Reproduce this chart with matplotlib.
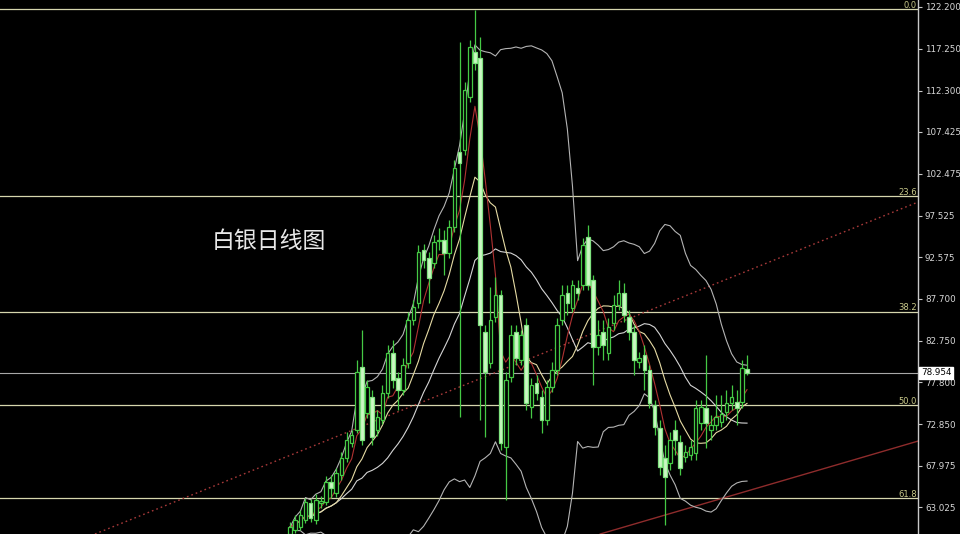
import numpy as np
import pandas as pd
import matplotlib
matplotlib.use("Agg")
import matplotlib.pyplot as plt
import matplotlib.transforms as mtransforms
from matplotlib.patches import Rectangle

# ---------------- data ----------------
opens = [59.9, 60.4, 60.7, 61.5, 63.5, 61.5, 63.5, 63.7, 66.0, 64.7,
         66.9, 68.9, 70.6, 72.2, 79.6, 74.2, 76.1, 72.2, 73.4, 76.6,
         81.3, 78.3, 76.9, 80.1, 85.2, 87.2, 93.5, 92.5, 91.9, 94.5,
         94.6, 93.1, 96.2, 105.0, 105.3, 111.5, 116.9, 116.1, 83.8, 80.1,
         85.5, 88.1, 70.2, 78.4, 83.8, 80.4, 84.6, 74.9, 77.7, 76.1,
         73.4, 77.3, 79.3, 85.2, 88.4, 86.6, 89.0, 89.3, 95.0, 89.9,
         82.0, 83.8, 81.3, 84.8, 87.0, 88.4, 85.5, 83.8, 80.2, 81.0,
         79.3, 75.1, 72.4, 68.9, 68.3, 72.2, 70.8, 69.0, 69.2, 69.5,
         73.0, 74.8, 72.2, 72.8, 73.1, 74.3, 75.4, 75.5, 75.5, 79.4]
highs = [61.3, 62.1, 62.7, 64.1, 64.0, 64.6, 64.4, 66.7, 66.9, 67.7,
         69.6, 71.9, 72.2, 80.5, 84.0, 78.1, 76.9, 74.5, 77.5, 82.2,
         82.8, 79.0, 80.7, 86.1, 87.5, 94.0, 94.2, 93.2, 95.2, 96.1,
         95.8, 97.0, 104.1, 118.0, 113.3, 118.3, 121.8, 118.6, 84.6, 89.1,
         90.3, 88.7, 79.0, 84.6, 84.6, 84.0, 85.4, 78.3, 78.7, 76.9,
         78.1, 80.2, 85.4, 89.3, 89.3, 89.9, 89.9, 94.9, 96.4, 90.5,
         85.2, 85.2, 85.4, 88.1, 89.9, 89.6, 86.4, 84.6, 81.4, 82.2,
         79.9, 75.7, 73.4, 70.4, 71.9, 73.4, 71.6, 70.4, 71.0, 75.7,
         75.7, 81.0, 74.0, 76.3, 76.3, 76.9, 77.5, 76.9, 80.5, 81.0]
lows = [59.2, 60.0, 60.4, 61.2, 61.3, 61.1, 63.0, 63.3, 64.1, 64.3,
        66.3, 68.4, 70.2, 71.8, 70.4, 73.6, 70.4, 71.5, 72.9, 76.0,
        77.1, 74.5, 76.3, 79.5, 84.6, 86.6, 91.3, 87.2, 91.3, 93.5,
        90.5, 92.5, 95.6, 73.7, 104.7, 110.9, 114.7, 73.4, 71.4, 79.5,
        84.9, 69.8, 63.9, 77.9, 79.9, 79.9, 74.5, 73.6, 75.7, 71.8,
        72.8, 76.7, 78.7, 84.6, 85.8, 86.1, 87.5, 88.7, 88.7, 77.5,
        81.0, 80.5, 80.5, 84.0, 86.4, 84.9, 82.8, 78.7, 79.5, 76.9,
        74.8, 71.6, 66.9, 61.0, 67.5, 69.2, 66.9, 68.4, 68.6, 68.6,
        72.2, 70.0, 71.0, 72.2, 72.5, 73.4, 74.5, 72.8, 74.8, 78.7]
closes = [60.7, 61.5, 62.1, 63.7, 61.8, 63.9, 63.8, 66.0, 65.3, 67.1,
          68.9, 71.0, 71.6, 79.0, 71.0, 77.3, 71.4, 73.7, 76.6, 81.3,
          78.1, 76.9, 79.9, 85.2, 86.7, 93.2, 92.3, 90.1, 94.4, 94.6,
          93.1, 96.2, 103.1, 103.7, 112.4, 117.4, 115.6, 84.6, 79.0, 85.2,
          88.1, 70.6, 78.1, 83.4, 80.7, 83.4, 75.4, 77.5, 76.6, 73.4,
          77.3, 79.3, 84.6, 88.1, 87.2, 89.3, 88.4, 94.0, 89.3, 82.0,
          83.4, 82.2, 84.4, 87.0, 88.4, 85.8, 83.8, 80.5, 80.7, 79.3,
          75.4, 72.5, 67.8, 66.6, 71.0, 71.0, 67.7, 69.6, 70.2, 74.8,
          74.9, 73.0, 72.8, 73.7, 74.1, 75.4, 76.1, 74.8, 79.5, 78.954]

tick_values = [122.200, 117.250, 112.300, 107.425, 102.475, 97.525, 92.575,
               87.700, 82.750, 77.800, 72.850, 67.975, 63.025]
tick_labels = ["122.200", "117.250", "112.300", "107.425", "102.475", "97.525",
               "92.575", "87.700", "82.750", "77.800", "72.850", "67.975", "63.025"]

fib_high = 121.94
fib_low = 28.34
fib_levels = [0.0, 23.6, 38.2, 50.0, 61.8]
fib_labels = ["0.0", "23.6", "38.2", "50.0", "61.8"]

last_price = 78.954
last_label = "78.954"

# trend lines (candle index, price)
dotted_trend_x = [-38.0, 122.3]
dotted_trend_y = [59.89, 99.12]
solid_trend_x = [60.4, 122.3]
solid_trend_y = [59.89, 70.87]

title_text = "白银日线图"

# ---------------- figure ----------------
W, H = 960, 534
fig = plt.figure(figsize=(W / 100, H / 100), dpi=100, facecolor="black")
ax = fig.add_axes([0, 0, 918 / 960, 1], facecolor="black")

x = np.arange(len(closes))
cs = pd.Series(closes)
ma5 = cs.rolling(5, min_periods=1).mean()
ma10 = cs.rolling(10, min_periods=1).mean()
mid = cs.rolling(20, min_periods=1).mean()
sd = cs.rolling(20, min_periods=1).std(ddof=0).fillna(0)
upper = mid + 2 * sd
lower = mid - 2 * sd

ax.set_xlim(-56.5, 122.3)
ax.set_ylim(59.89, 123.0)
blend = mtransforms.blended_transform_factory(ax.transAxes, ax.transData)

# fib lines
for lv, lab in zip(fib_levels, fib_labels):
    price = fib_high - (fib_high - fib_low) * lv / 100.0
    ax.axhline(price, color="#d6d6ae", lw=0.9, zorder=1)
    ax.text(0.999, price + 0.12, lab, transform=blend,
            ha="right", va="baseline", color="#c9c98a", fontsize=6,
            family="DejaVu Sans", zorder=6)

# current price line
ax.axhline(last_price, color="#a8a8a8", lw=0.8, zorder=1)

# trend lines
ax.plot(dotted_trend_x, dotted_trend_y, color="#a83a3a", lw=1.0, ls=(0, (1.2, 2.2)), zorder=2)
ax.plot(solid_trend_x, solid_trend_y, color="#8e2c2c", lw=1.0, zorder=2)

# indicators
ax.plot(x, upper, color="#b4b4b4", lw=0.8, zorder=3)
ax.plot(x, lower, color="#b4b4b4", lw=0.8, zorder=3)
ax.plot(x, mid, color="#d4d4d4", lw=0.8, zorder=3)
ax.plot(x, ma10, color="#e6dba4", lw=0.8, zorder=3)
ax.plot(x, ma5, color="#b03232", lw=0.8, zorder=3)

# candles
w = 0.7
for i, (o, h, l, c) in enumerate(zip(opens, highs, lows, closes)):
    up = c >= o
    ax.vlines(i, l, h, color="#45c945", lw=0.9, zorder=4)
    b0 = min(o, c)
    bh = max(abs(c - o), 0.12)
    if up:
        ax.add_patch(Rectangle((i - w / 2, b0), w, bh, facecolor="black",
                               edgecolor="#45c945", lw=0.9, zorder=5))
    else:
        ax.add_patch(Rectangle((i - w / 2, b0), w, bh, facecolor="#ccf7c4",
                               edgecolor="#7fe27f", lw=0.9, zorder=5))

# axes style
for s in ["left", "top", "bottom"]:
    ax.spines[s].set_visible(False)
ax.spines["right"].set_color("#c8c8c8")
ax.spines["right"].set_linewidth(1.0)
ax.yaxis.tick_right()
ax.set_yticks(tick_values)
ax.set_yticklabels(tick_labels)
ax.tick_params(axis="y", colors="#c8c8c8", labelcolor="#d8d8d8", length=3, width=0.8,
               pad=2, labelsize=6.3)
for t in ax.get_yticklabels():
    t.set_family("DejaVu Sans")
ax.set_xticks([])

# last price label
ax.text(1.003, last_price, last_label, transform=blend,
        ha="left", va="center", color="black", fontsize=6.3, family="DejaVu Sans",
        bbox=dict(facecolor="white", edgecolor="white", pad=1.0), zorder=10, clip_on=False)

# title
fig.text(212 / 960, 1 - 242 / 534, title_text, ha="left", va="center", color="#e8e8e8",
         fontsize=16.5, family=["Noto Sans CJK SC", "DejaVu Sans"])

fig.savefig("out.png", dpi=100, facecolor="black")
